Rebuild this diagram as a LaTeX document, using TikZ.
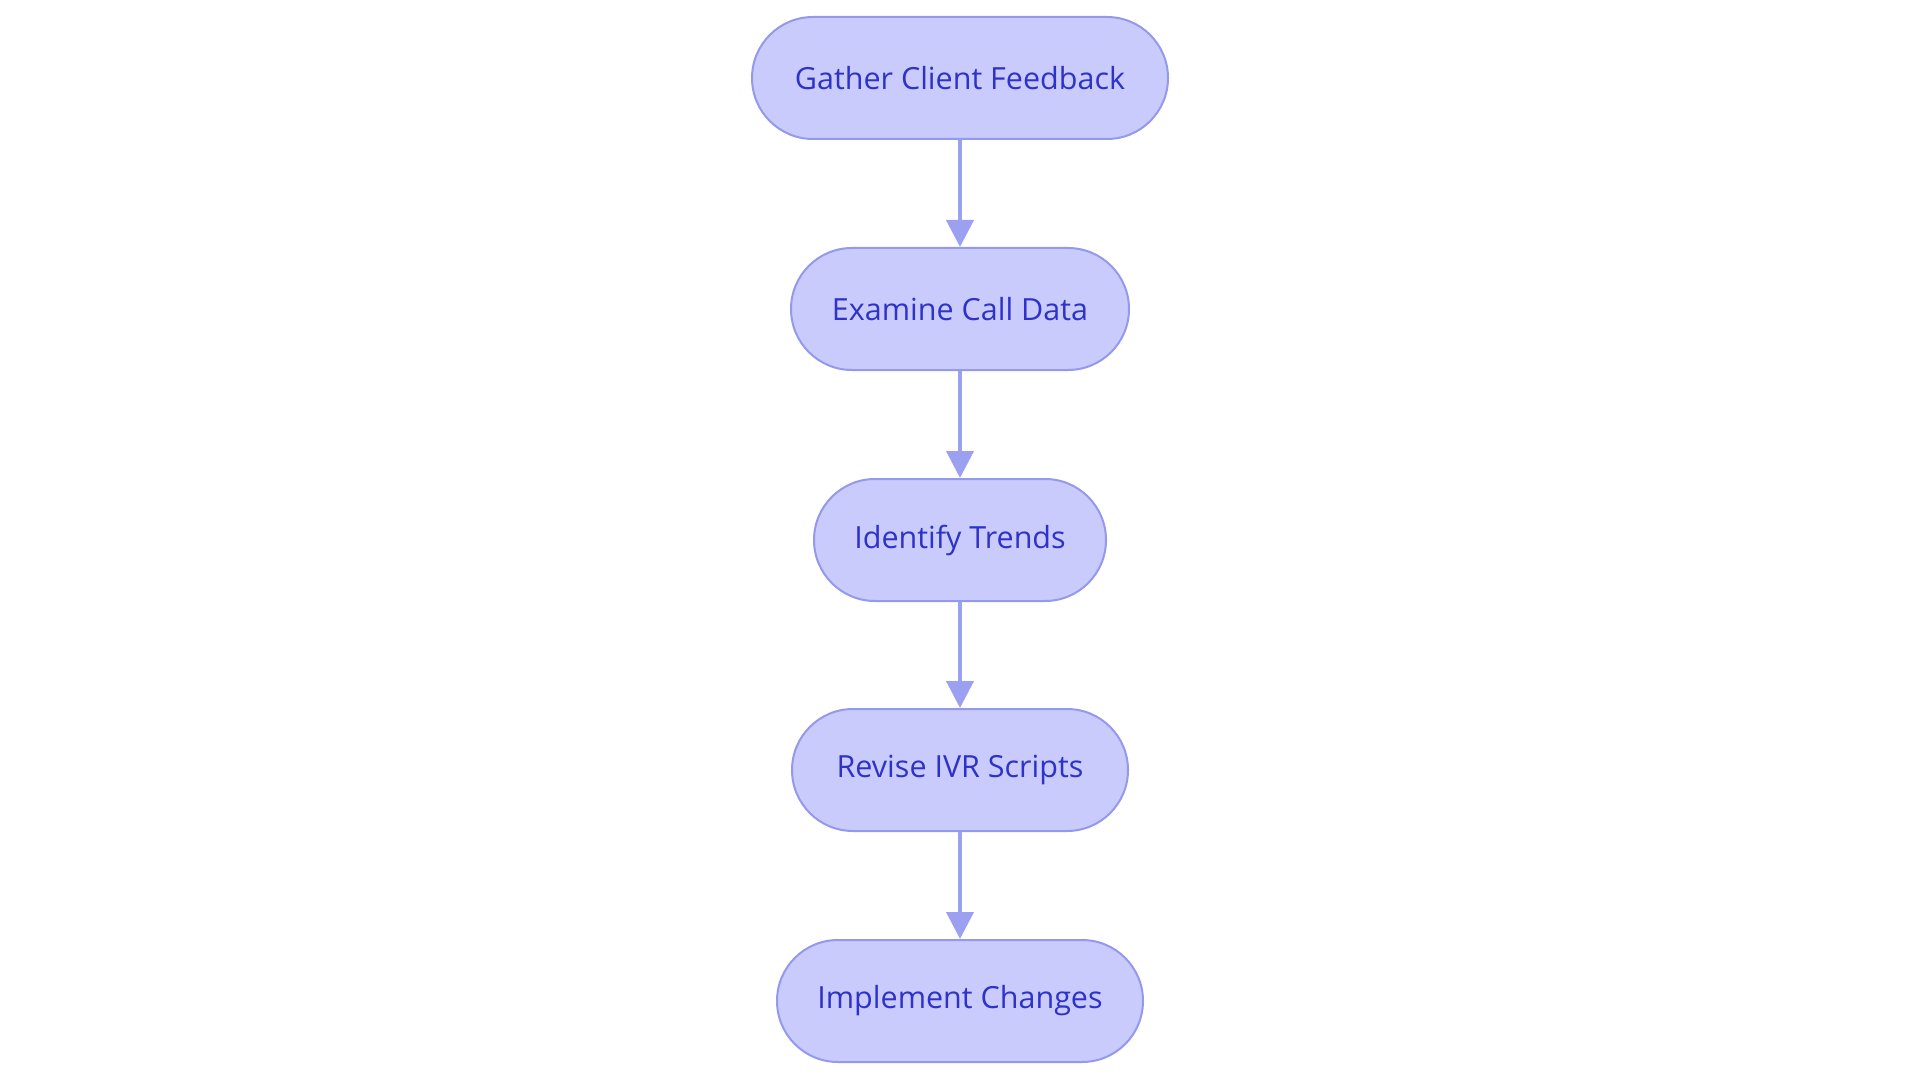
\documentclass[tikz,border=0pt]{standalone}
\usepackage{fontspec}
\setmainfont{Open Sans}
\usetikzlibrary{arrows.meta}
\definecolor{stepfill}{HTML}{C9CBFC}
\definecolor{stepline}{HTML}{9599EC}
\definecolor{steptext}{HTML}{2E32C8}
\definecolor{flowline}{HTML}{9CA0F0}
\begin{document}
\begin{tikzpicture}[x=1pt,y=-1pt,
    stepbox/.style={draw=stepline,line width=2pt,fill=stepfill,text=steptext,
      rounded corners=61pt,minimum height=122pt,inner sep=0pt,
      font=\fontsize{30.5}{36}\selectfont},
    flow/.style={draw=flowline,line width=4pt,-{Triangle[length=27pt,width=27pt]}}]
    \useasboundingbox (0,0) rectangle (1920,1083);
    \node [stepbox,minimum width=416pt] (gather) at (960,78) {Gather Client Feedback};
    \node [stepbox,minimum width=338pt] (examine) at (960,309) {Examine Call Data};
    \node [stepbox,minimum width=292pt] (identify) at (960,540) {Identify Trends};
    \node [stepbox,minimum width=336pt] (revise) at (960,770) {Revise IVR Scripts};
    \node [stepbox,minimum width=366pt] (implement) at (960,1001) {Implement Changes};
    \draw [flow] (gather) -- (examine);
    \draw [flow] (examine) -- (identify);
    \draw [flow] (identify) -- (revise);
    \draw [flow] (revise) -- (implement);
  \end{tikzpicture}
\end{document}
